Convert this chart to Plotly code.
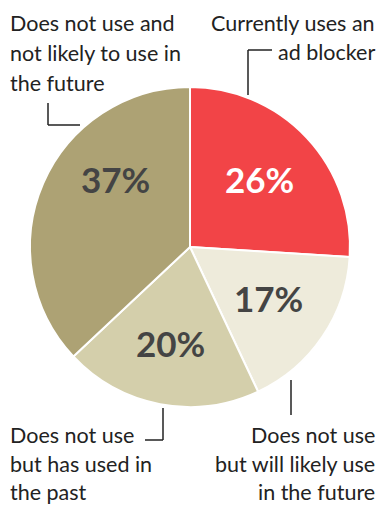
import plotly.graph_objects as go

categories = ["Currently uses an ad blocker",
              "Does not use but will likely use in the future",
              "Does not use but has used in the past",
              "Does not use and not likely to use in the future"]
values = [26, 17, 20, 37]
colors = ["#f24447", "#eeebdb", "#d4cfab", "#ada274"]
text_colors = ["#ffffff", "#444444", "#444444", "#444444"]
label_lines = [
    ["Currently uses an", "ad blocker"],
    ["Does not use", "but will likely use", "in the future"],
    ["Does not use", "but has used in", "the past"],
    ["Does not use and", "not likely to use in", "the future"],
]

W, H = 384, 508
cx, cy, r = 190, 247, 160

fig = go.Figure(go.Pie(
    labels=categories,
    values=values,
    sort=False,
    direction="clockwise",
    rotation=0,
    marker=dict(colors=colors, line=dict(color="white", width=2)),
    textinfo="none",
    showlegend=False,
    hoverinfo="skip",
    domain=dict(x=[(cx - r) / W, (cx + r) / W],
                y=[(H - cy - r) / H, (H - cy + r) / H]),
))

def px(x):
    return x / W
def py(y):
    return 1 - y / H

# percentage labels
pct_pos = [(259, 179), (268, 298), (170, 343), (115, 179)]
for v, (x, y), c in zip(values, pct_pos, text_colors):
    fig.add_annotation(x=px(x), y=py(y), xref="paper", yref="paper",
                       text=f"<b>{v}%</b>", showarrow=False,
                       xanchor="center", yanchor="middle",
                       font=dict(family="Lato", size=35, color=c))

# category labels
font = dict(family="Lato", size=21.5, color="#222222")
label_pos = [
    (377, [23, 52], "right"),
    (377, [435, 464, 492], "right"),
    (8, [435, 464, 492], "left"),
    (8, [23, 53, 83], "left"),
]
for lines, (x, ys, al) in zip(label_lines, label_pos):
    for t, y in zip(lines, ys):
        fig.add_annotation(x=px(x), y=py(y), xref="paper", yref="paper",
                           text=t, showarrow=False, xanchor=al,
                           yanchor="middle", font=font)

line = dict(color="#222222", width=1.5)
segs = [
    ((48, 103), (48, 125)), ((48, 125), (80, 125)),
    ((248, 50), (248, 95)), ((248, 50), (272, 50)),
    ((163, 408), (163, 440)), ((145, 440), (163, 440)),
    ((291, 380), (291, 415)),
]
for (x0, y0), (x1, y1) in segs:
    fig.add_shape(type="line", xref="paper", yref="paper",
                  x0=px(x0), y0=py(y0), x1=px(x1), y1=py(y1), line=line)

fig.update_layout(width=W, height=H, margin=dict(l=0, r=0, t=0, b=0),
                  paper_bgcolor="white", plot_bgcolor="white")
fig.write_html("out.html")
